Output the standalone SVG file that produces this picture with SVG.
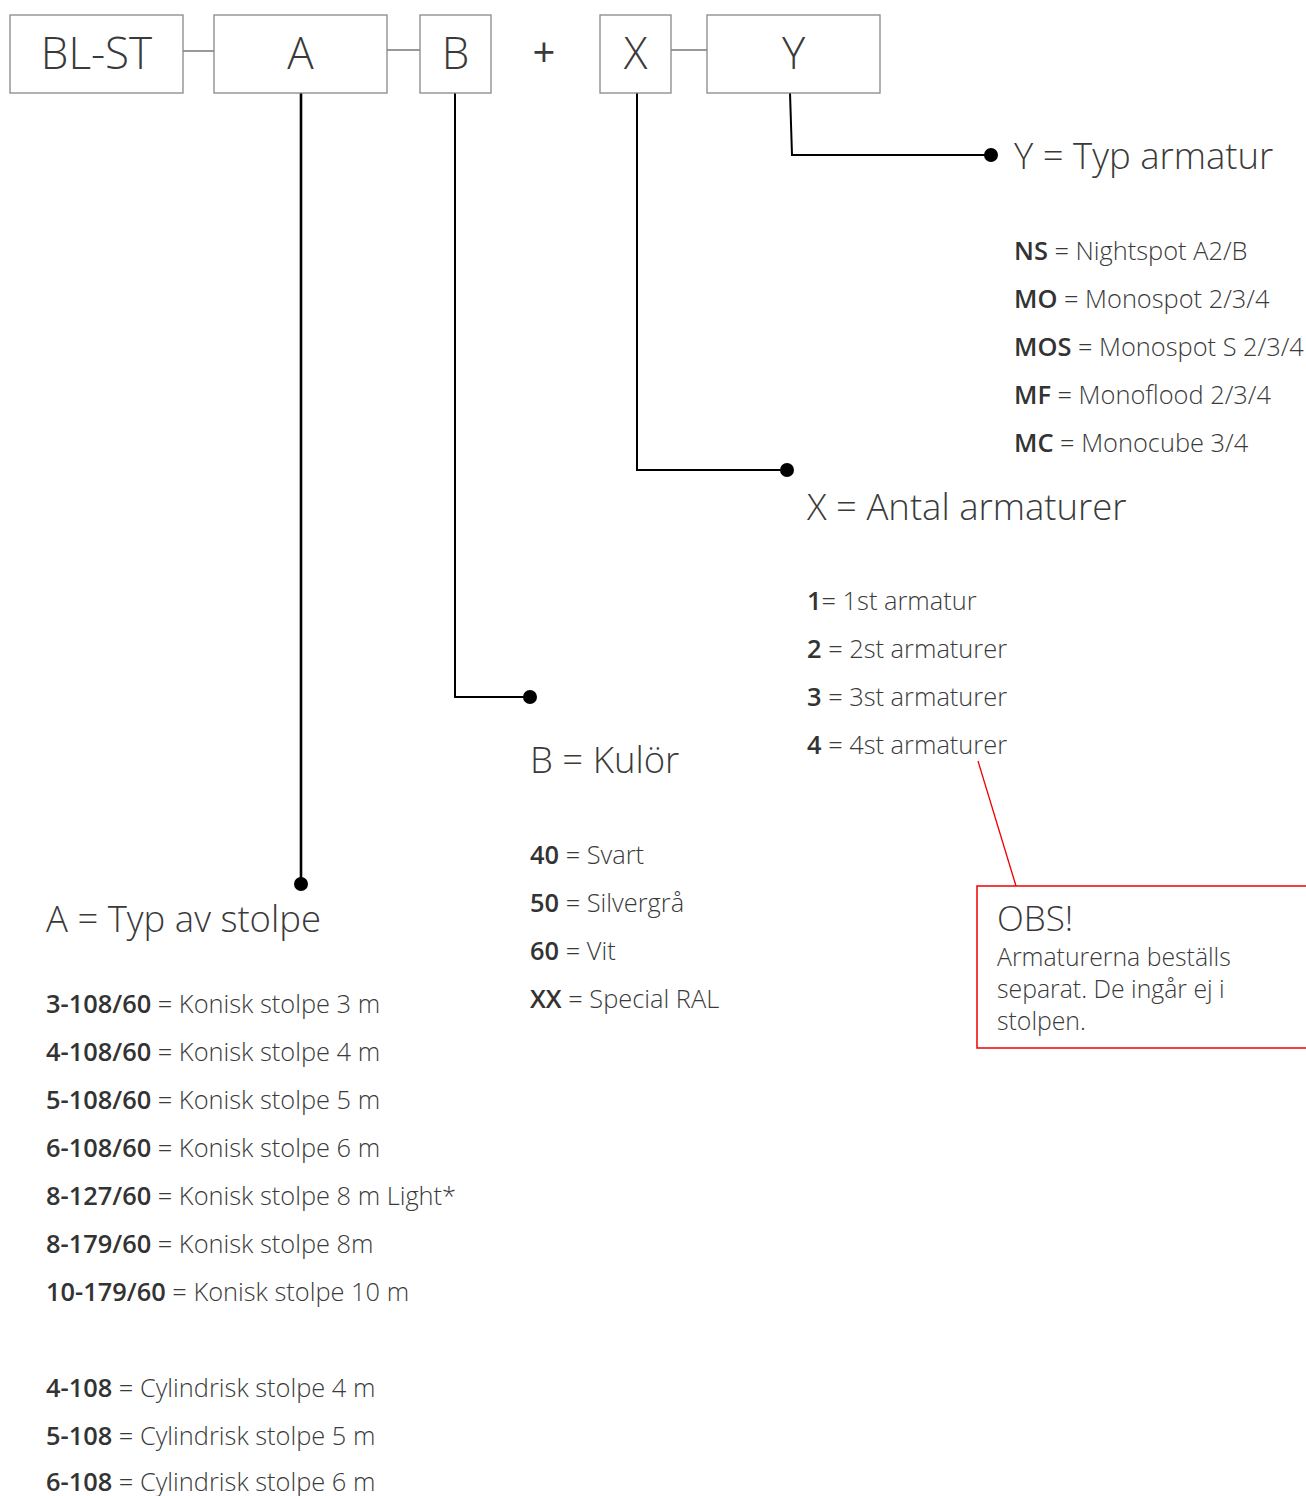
<svg xmlns="http://www.w3.org/2000/svg" width="1306" height="1496" viewBox="0 0 1306 1496">
<style>
text{font-family:"Open Sans","Noto Sans","Liberation Sans",sans-serif;fill:#3a3a3a;font-weight:300}
.box{fill:#fff;stroke:#888;stroke-width:1.3}
.code{font-size:44px;text-anchor:middle}
.h{font-size:36.5px}
.t{font-size:25.4px}
.n{font-size:24.8px}
.b{font-weight:600;fill:#333}
.link{stroke:#777;stroke-width:1.5;fill:none}
.lead{stroke:#000;stroke-width:2;fill:none}
.dot{fill:#000}
</style>
<rect width="1306" height="1496" fill="#fff"/>
<g id="connectors">
<line class="link" x1="183" y1="51" x2="214" y2="51"/>
<line class="link" x1="387" y1="50" x2="420" y2="50"/>
<line class="link" x1="671" y1="50" x2="707" y2="50"/>
<polyline class="lead" style="stroke-width:2.6" points="301,93 301,884"/>
<circle class="dot" cx="301" cy="884" r="7"/>
<polyline class="lead" points="455,93 455,697 530,697"/>
<circle class="dot" cx="530" cy="697" r="7"/>
<polyline class="lead" points="637,93 637,470 787,470"/>
<circle class="dot" cx="787" cy="470" r="7"/>
<polyline class="lead" points="790,93 792,155 991,155"/>
<circle class="dot" cx="991" cy="155" r="7"/>
<line x1="978" y1="761" x2="1016" y2="886" stroke="#e00" stroke-width="1.3"/>
</g>
<g id="node-blst"><rect class="box" x="10" y="15" width="173" height="78"/><text class="code" x="96.5" y="69">BL-ST</text></g>
<g id="node-a"><rect class="box" x="214" y="15" width="173" height="78"/><text class="code" x="300.5" y="69">A</text></g>
<g id="node-b"><rect class="box" x="420" y="15" width="71" height="78"/><text class="code" x="455.5" y="69">B</text></g>
<text x="544" y="67" style="font-size:40px;text-anchor:middle;font-weight:500">+</text>
<g id="node-x"><rect class="box" x="600" y="15" width="71" height="78"/><text class="code" x="635.5" y="69">X</text></g>
<g id="node-y"><rect class="box" x="707" y="15" width="173" height="78"/><text class="code" x="793.5" y="69">Y</text></g>

<g id="legend-y">
<text class="h" x="1014" y="169">Y = Typ armatur</text>
<text class="t" x="1014" y="260"><tspan class="b">NS</tspan> = Nightspot A2/B</text>
<text class="t" x="1014" y="308"><tspan class="b">MO</tspan> = Monospot 2/3/4</text>
<text class="t" x="1014" y="356"><tspan class="b">MOS</tspan> = Monospot S 2/3/4</text>
<text class="t" x="1014" y="404"><tspan class="b">MF</tspan> = Monoflood 2/3/4</text>
<text class="t" x="1014" y="452"><tspan class="b">MC</tspan> = Monocube 3/4</text>
</g>
<g id="legend-x">
<text class="h" x="807" y="520">X = Antal armaturer</text>
<text class="t" x="807" y="610"><tspan class="b">1</tspan>= 1st armatur</text>
<text class="t" x="807" y="658"><tspan class="b">2</tspan> = 2st armaturer</text>
<text class="t" x="807" y="706"><tspan class="b">3</tspan> = 3st armaturer</text>
<text class="t" x="807" y="754"><tspan class="b">4</tspan> = 4st armaturer</text>
</g>
<g id="legend-b">
<text class="h" x="530" y="773">B = Kulör</text>
<text class="t" x="530" y="864"><tspan class="b">40</tspan> = Svart</text>
<text class="t" x="530" y="912"><tspan class="b">50</tspan> = Silvergrå</text>
<text class="t" x="530" y="960"><tspan class="b">60</tspan> = Vit</text>
<text class="t" x="530" y="1008"><tspan class="b">XX</tspan> = Special RAL</text>
</g>
<g id="legend-a">
<text class="h" x="46" y="932">A = Typ av stolpe</text>
<text class="t" x="46" y="1013"><tspan class="b">3-108/60</tspan> = Konisk stolpe 3 m</text>
<text class="t" x="46" y="1061"><tspan class="b">4-108/60</tspan> = Konisk stolpe 4 m</text>
<text class="t" x="46" y="1109"><tspan class="b">5-108/60</tspan> = Konisk stolpe 5 m</text>
<text class="t" x="46" y="1157"><tspan class="b">6-108/60</tspan> = Konisk stolpe 6 m</text>
<text class="t" x="46" y="1205"><tspan class="b">8-127/60</tspan> = Konisk stolpe 8 m Light*</text>
<text class="t" x="46" y="1253"><tspan class="b">8-179/60</tspan> = Konisk stolpe 8m</text>
<text class="t" x="46" y="1301"><tspan class="b">10-179/60</tspan> = Konisk stolpe 10 m</text>
<text class="t" x="46" y="1397"><tspan class="b">4-108</tspan> = Cylindrisk stolpe 4 m</text>
<text class="t" x="46" y="1445"><tspan class="b">5-108</tspan> = Cylindrisk stolpe 5 m</text>
<text class="t" x="46" y="1491"><tspan class="b">6-108</tspan> = Cylindrisk stolpe 6 m</text>
</g>
<g id="note-obs">
<rect x="977" y="886" width="340" height="162" fill="none" stroke="#e00" stroke-width="1.5"/>
<text x="997" y="931" style="font-size:35px">OBS!</text>
<text class="n" x="997" y="966">Armaturerna beställs</text>
<text class="n" x="997" y="998">separat. De ingår ej i</text>
<text class="n" x="997" y="1030">stolpen.</text>
</g>
</svg>
